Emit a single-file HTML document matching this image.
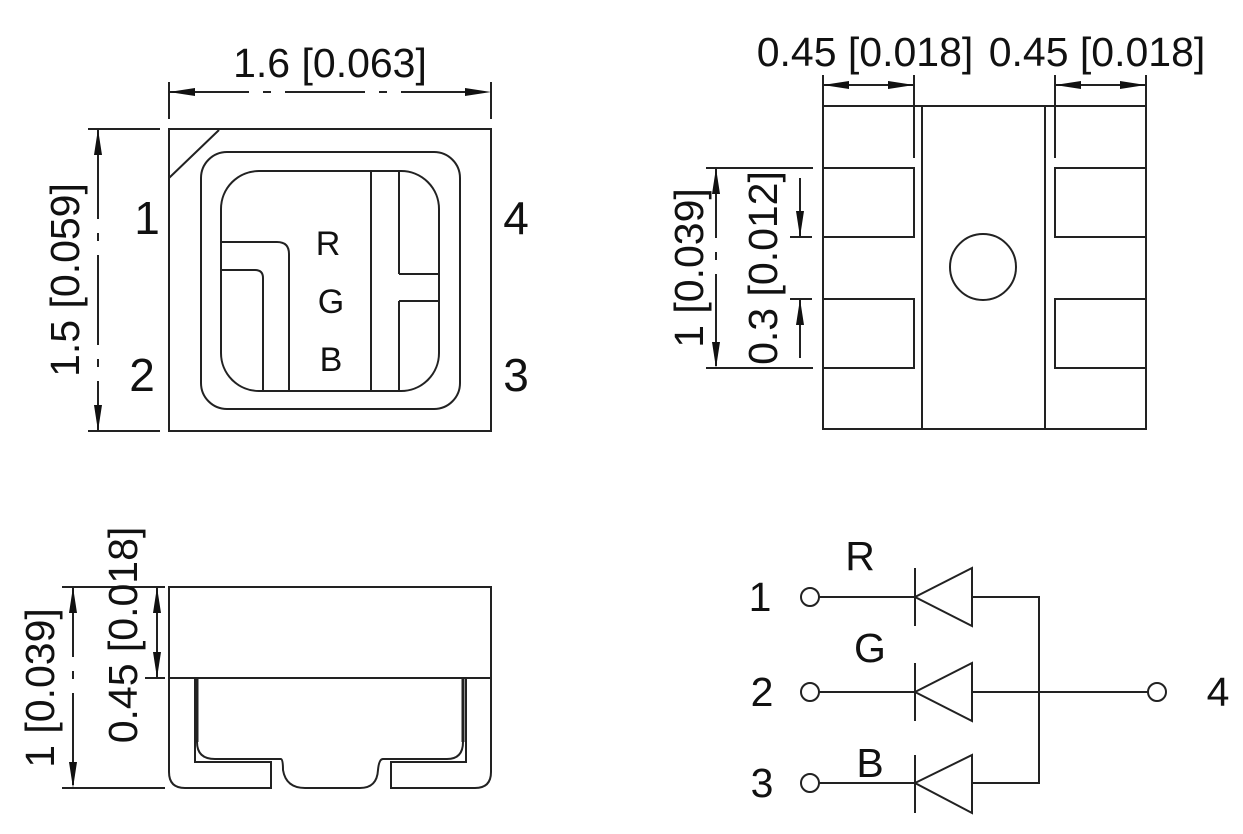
<!DOCTYPE html>
<html><head><meta charset="utf-8"><style>
html,body{margin:0;padding:0;background:#fff}
svg{display:block}
text{font-family:"Liberation Sans",sans-serif;fill:#111}
</style></head><body>
<svg width="1243" height="834" viewBox="0 0 1243 834" xmlns="http://www.w3.org/2000/svg">
<g stroke="#222" stroke-width="2" fill="none">
<rect x="169" y="129" width="322" height="302"/>
<line x1="169" y1="178" x2="219" y2="130"/>
<rect x="201" y="152" width="259" height="257" rx="26"/>
<rect x="221" y="171" width="218" height="220" rx="38"/>
<line x1="371" y1="171" x2="371" y2="391"/>
<line x1="399" y1="171" x2="399" y2="274"/>
<line x1="399" y1="301" x2="399" y2="391"/>
<line x1="399" y1="274" x2="439" y2="274"/>
<line x1="399" y1="301" x2="439" y2="301"/>
<path d="M221,242 H277 Q289,242 289,254 V391"/>
<path d="M221,270 H255 Q263,270 263,278 V391"/>
<line x1="169" y1="82" x2="169" y2="119"/>
<line x1="491" y1="82" x2="491" y2="119"/>
<line x1="169" y1="92" x2="491" y2="92" stroke-dasharray="80,14,8,14"/>
<line x1="88" y1="129" x2="160" y2="129"/>
<line x1="88" y1="431" x2="160" y2="431"/>
<line x1="98" y1="129" x2="98" y2="431" stroke-dasharray="90,14,8,14"/>

<rect x="823" y="106" width="323" height="323"/>
<line x1="922" y1="106" x2="922" y2="429"/>
<line x1="1045" y1="106" x2="1045" y2="429"/>
<rect x="823" y="168" width="91" height="69"/>
<rect x="823" y="299" width="91" height="69"/>
<rect x="1055" y="168" width="91" height="69"/>
<rect x="1055" y="299" width="91" height="69"/>
<circle cx="983" cy="267" r="33"/>
<line x1="823" y1="75" x2="823" y2="106"/>
<line x1="914" y1="75" x2="914" y2="158"/>
<line x1="1055" y1="75" x2="1055" y2="158"/>
<line x1="1146" y1="75" x2="1146" y2="106"/>
<line x1="823" y1="85" x2="914" y2="85"/>
<line x1="1055" y1="85" x2="1146" y2="85"/>
<line x1="706" y1="168" x2="813" y2="168"/>
<line x1="706" y1="368" x2="813" y2="368"/>
<line x1="716" y1="168" x2="716" y2="368" stroke-dasharray="70,14,8,14"/>
<line x1="790" y1="237" x2="812" y2="237"/>
<line x1="790" y1="299" x2="812" y2="299"/>
<line x1="800" y1="178" x2="800" y2="237"/>
<line x1="800" y1="358" x2="800" y2="299"/>

<path d="M169,678 V587 H491 V678 Z"/>
<path d="M169,678 V772 Q169,788 185,788 H271 V762 H195 V678"/>
<path d="M491,678 V772 Q491,788 475,788 H391 V762 H466 V678"/>
<path d="M197,678 V742 Q197,759 215,759 H281 Q283,759 283,770 Q286,788 305,788 H360 Q377,788 378,770 Q379,759 383,759 H447 Q463,759 463,742 V678" />
<line x1="197" y1="678" x2="197" y2="742" stroke-width="3"/>
<line x1="463" y1="678" x2="463" y2="742" stroke-width="3"/>
<line x1="62" y1="587" x2="165" y2="587"/>
<line x1="62" y1="788" x2="165" y2="788"/>
<line x1="145" y1="678" x2="165" y2="678"/>
<line x1="73" y1="587" x2="73" y2="788" stroke-dasharray="70,14,8,14"/>
<line x1="157" y1="587" x2="157" y2="678"/>

<circle cx="810" cy="597" r="9"/><circle cx="810" cy="692" r="9"/><circle cx="810" cy="783" r="9"/><circle cx="1157" cy="692" r="9"/>
<line x1="819" y1="597" x2="915" y2="597"/><line x1="819" y1="692" x2="915" y2="692"/><line x1="819" y1="783" x2="915" y2="783"/>
<line x1="915" y1="568" x2="915" y2="626"/><line x1="915" y1="663" x2="915" y2="721"/><line x1="915" y1="755" x2="915" y2="813"/>
<path d="M915,597 L972,568 V626 Z"/><path d="M915,692 L972,663 V721 Z"/><path d="M915,783 L972,755 V813 Z"/>
<path d="M972,597 H1039 V783 H972"/>
<line x1="972" y1="692" x2="1148" y2="692"/>
</g>

<g fill="#111" stroke="none">
<polygon points="169,92 195,88 195,96"/><polygon points="491,92 465,88 465,96"/>
<polygon points="98,129 94,155 102,155"/><polygon points="98,431 94,405 102,405"/>
<polygon points="823,85 849,81 849,89"/><polygon points="914,85 888,81 888,89"/>
<polygon points="1055,85 1081,81 1081,89"/><polygon points="1146,85 1120,81 1120,89"/>
<polygon points="716,168 712,194 720,194"/><polygon points="716,368 712,342 720,342"/>
<polygon points="800,237 796,211 804,211"/><polygon points="800,299 796,325 804,325"/>
<polygon points="73,587 69,613 77,613"/><polygon points="73,788 69,762 77,762"/>
<polygon points="157,587 153,613 161,613"/><polygon points="157,678 153,652 161,652"/>
</g>

<g font-size="41">
<text x="330" y="77" text-anchor="middle">1.6 [0.063]</text>
<text transform="translate(79,280) rotate(-90)" text-anchor="middle">1.5 [0.059]</text>
<text x="865" y="66" text-anchor="middle">0.45 [0.018]</text>
<text x="1097" y="66" text-anchor="middle">0.45 [0.018]</text>
<text transform="translate(703,268) rotate(-90)" text-anchor="middle">1 [0.039]</text>
<text transform="translate(777,268) rotate(-90)" text-anchor="middle">0.3 [0.012]</text>
<text transform="translate(54,688) rotate(-90)" text-anchor="middle">1 [0.039]</text>
<text transform="translate(137,635) rotate(-90)" text-anchor="middle">0.45 [0.018]</text>
<text x="760" y="611" text-anchor="middle">1</text>
<text x="762" y="706" text-anchor="middle">2</text>
<text x="762" y="797" text-anchor="middle">3</text>
<text x="1218" y="706" text-anchor="middle">4</text>
<text x="860" y="570" text-anchor="middle">R</text>
<text x="870" y="662" text-anchor="middle">G</text>
<text x="870" y="777" text-anchor="middle">B</text>
</g>
<g font-size="46">
<text x="147" y="234" text-anchor="middle">1</text>
<text x="142" y="391" text-anchor="middle">2</text>
<text x="516" y="234" text-anchor="middle">4</text>
<text x="516" y="391" text-anchor="middle">3</text>
</g>
<g font-size="34">
<text x="328" y="255" text-anchor="middle">R</text>
<text x="331" y="313" text-anchor="middle">G</text>
<text x="331" y="371" text-anchor="middle">B</text>
</g>
</svg>
</body></html>
